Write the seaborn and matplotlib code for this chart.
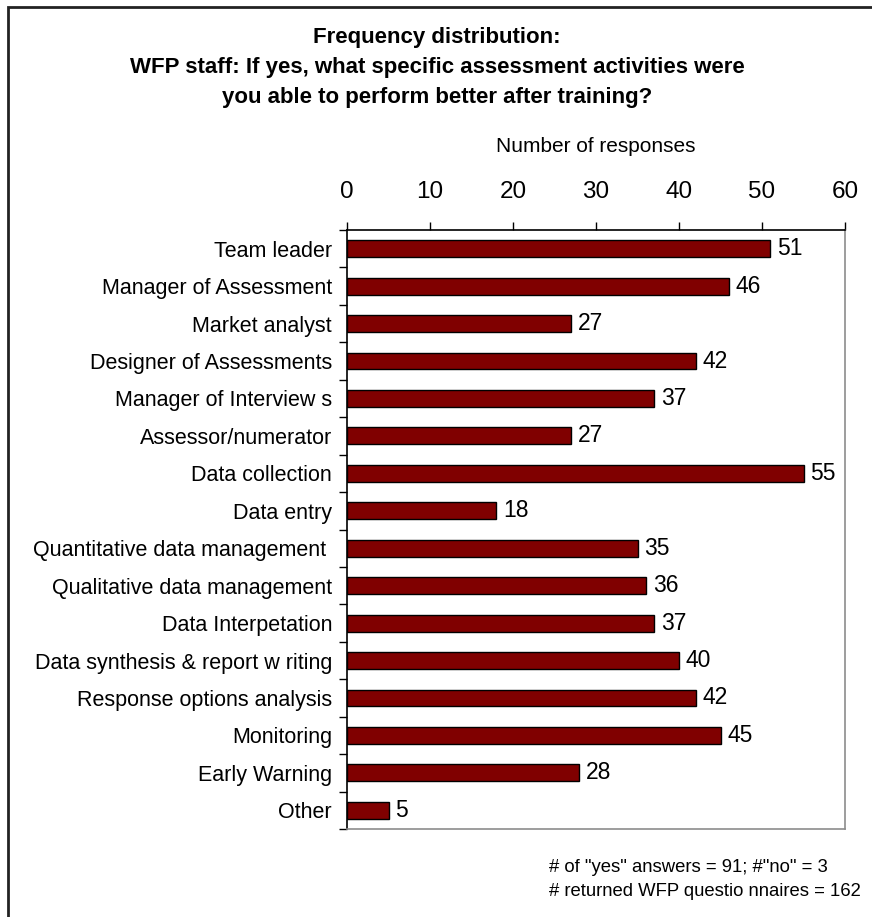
import numpy as np
import pandas as pd
import matplotlib
matplotlib.use("Agg")
import matplotlib.pyplot as plt
from matplotlib.patches import Rectangle
import seaborn as sns

activities = [
    "Team leader", "Manager of Assessment", "Market analyst",
    "Designer of Assessments", "Manager of Interview s", "Assessor/numerator",
    "Data collection", "Data entry", "Quantitative data management ",
    "Qualitative data management", "Data Interpetation",
    "Data synthesis & report w riting", "Response options analysis",
    "Monitoring", "Early Warning", "Other",
]
responses = [51, 46, 27, 42, 37, 27, 55, 18, 35, 36, 37, 40, 42, 45, 28, 5]
x_ticks = [0, 10, 20, 30, 40, 50, 60]

title_lines = [
    "Frequency distribution:",
    "WFP staff: If yes, what specific assessment activities were",
    "you able to perform better after training?",
]
notes = [
    '# of "yes" answers = 91; #"no" = 3',
    "# returned WFP questio nnaires = 162",
]

sns.set_theme(style="white")
plt.rcParams["font.family"] = ["Liberation Sans", "DejaVu Sans"]
plt.rcParams["text.color"] = "black"
plt.rcParams["axes.labelcolor"] = "black"
plt.rcParams["xtick.color"] = "black"
plt.rcParams["ytick.color"] = "black"

df = pd.DataFrame({"activity": activities, "responses": responses})

W, H = 872, 917
fig = plt.figure(figsize=(W / 100, H / 100), dpi=100)
left, right, top, bottom = 347, 845, 230, 829
ax = fig.add_axes([left / W, 1 - bottom / H, (right - left) / W, (bottom - top) / H])

sns.barplot(data=df, x="responses", y="activity", orient="h", ax=ax,
            color="#800000", edgecolor="black", linewidth=1.0,
            width=0.45, saturation=1)

for c in ax.containers:
    ax.bar_label(c, padding=5, fontsize=16.5, color="black")

ax.set_xlim(0, 60)
ax.set_ylim(15.5, -0.5)
ax.set_xticks(x_ticks)
ax.xaxis.tick_top()
ax.xaxis.set_label_position("top")
ax.set_xlabel("Number of responses", fontsize=15, color="black")
ax.xaxis.set_label_coords(0.5, (bottom - 156) / (bottom - top))
ax.xaxis.label.set_va("bottom")
ax.set_ylabel("")
ax.tick_params(axis="x", which="major", direction="out", length=6, width=1,
               color="black", labelsize=17.5, pad=13.5, top=True, bottom=False)
ax.tick_params(axis="y", which="major", length=0, labelsize=15.5, pad=10.8)
ax.set_yticks(np.arange(-0.5, 16, 1), minor=True)
ax.tick_params(axis="y", which="minor", direction="out", length=6, width=1,
               color="black", left=True)

for side in ("left", "top"):
    ax.spines[side].set_color("black")
    ax.spines[side].set_linewidth(1.2)
for side in ("right", "bottom"):
    ax.spines[side].set_color("#8c8c8c")
    ax.spines[side].set_linewidth(1.2)

for i, line in enumerate(title_lines):
    fig.text(437 / W, 1 - (38 + i * 30) / H, line, ha="center", va="center",
             fontsize=16, fontweight="bold")

for i, line in enumerate(notes):
    fig.text(549 / W, 1 - (867 + i * 25) / H, line, ha="left", va="center",
             fontsize=13.3)

fig.patches.append(Rectangle((8 / W, -0.05), 1.1, 1 - 7 / H + 0.05,
                             transform=fig.transFigure, fill=False,
                             edgecolor="#222222", linewidth=2))

fig.savefig("out.png", dpi=100)
